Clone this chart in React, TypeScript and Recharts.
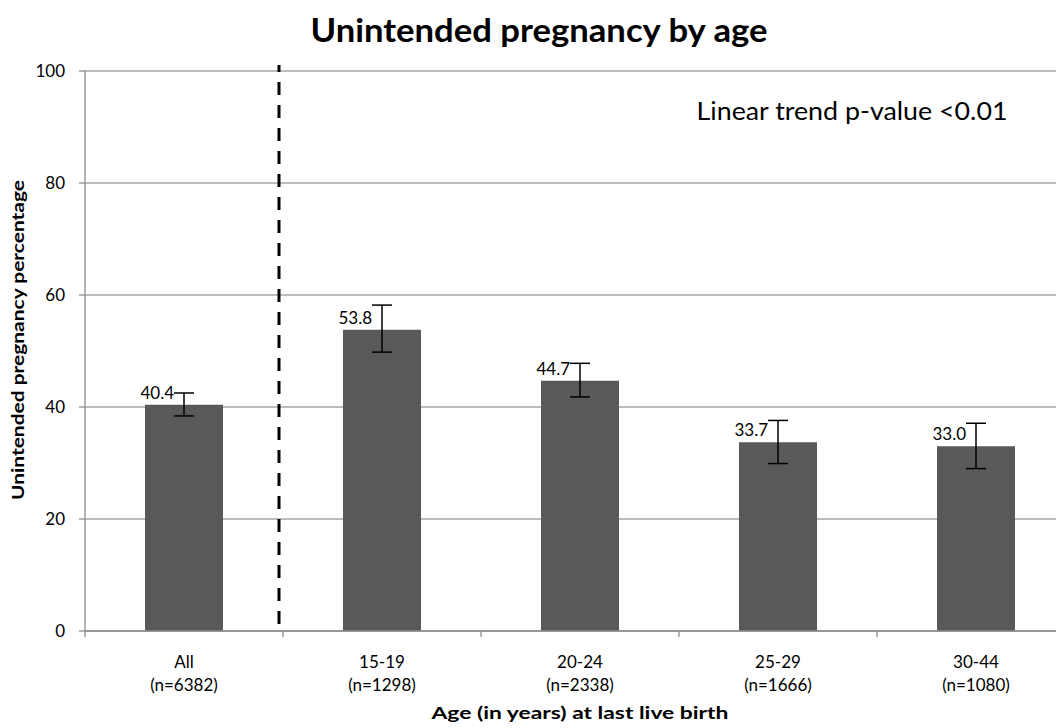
import React from 'react';
import {
  BarChart, Bar, XAxis, YAxis, CartesianGrid, ErrorBar, LabelList, ReferenceLine,
} from 'recharts';

const categories = ['All', '15-19', '20-24', '25-29', '30-44'];
const sampleSizes = ['(n=6382)', '(n=1298)', '(n=2338)', '(n=1666)', '(n=1080)'];
const values = [40.4, 53.8, 44.7, 33.7, 33.0];
const errLow = [2.0, 4.0, 2.9, 3.8, 4.0];
const errHigh = [2.1, 4.4, 3.1, 3.9, 4.1];
const yTicks = [0, 20, 40, 60, 80, 100];

const title = 'Unintended pregnancy by age';
const yTitle = 'Unintended pregnancy percentage';
const xTitle = 'Age (in years) at last live birth';
const trendNote = 'Linear trend p-value <0.01';

const data = categories.map((c, i) => ({
  cat: c,
  n: sampleSizes[i],
  value: values[i],
  err: [errLow[i], errHigh[i]],
}));

const FONT = 'Lato, "Noto Sans", sans-serif';
const CHART_W = 1080;
const CHART_H = 720;
const MARGIN = { top: 63, right: 13, bottom: 7, left: 0 };
const Y_AXIS_W = 77;
const BAND = (CHART_W - MARGIN.left - MARGIN.right - Y_AXIS_W) / categories.length;
const AXIS_GREY = '#8c8c8c';

const CatTick = (props: any) => {
  const { x, y, payload, index } = props;
  const isLast = index === categories.length - 1;
  return (
    <g>
      <line x1={x - BAND / 2} x2={x - BAND / 2} y1={y} y2={y + 6} stroke={AXIS_GREY} strokeWidth={1.3} />
      {isLast && (
        <line x1={x + BAND / 2} x2={x + BAND / 2} y1={y} y2={y + 6} stroke={AXIS_GREY} strokeWidth={1.3} />
      )}
      <text x={x} y={y} textAnchor="middle" fill="#000" fontSize={17} fontFamily={FONT}>
        <tspan x={x} dy={37}>{payload.value}</tspan>
        <tspan x={x} dy={23}>{sampleSizes[index]}</tspan>
      </text>
    </g>
  );
};

const ValueLabel = (props: any) => {
  const { x, y, width, value } = props;
  return (
    <text x={x + width / 2 - 10} y={y - 6} textAnchor="end" fill="#000" fontSize={17} fontFamily={FONT}>
      {Number(value).toFixed(1)}
    </text>
  );
};

const DashedDivider = (props: any) => {
  const { x1, y1, y2 } = props;
  const x = x1 - 4;
  return (
    <line x1={x} x2={x} y1={y1 - 7} y2={y2 - 6} stroke="#000" strokeWidth={3} strokeDasharray="13 10" />
  );
};

export default function App() {
  return (
    <div style={{ width: 1056, height: 720, overflow: 'hidden', fontFamily: FONT, background: '#fff' }}>
      <BarChart width={CHART_W} height={CHART_H} data={data} margin={MARGIN}>
        <CartesianGrid horizontal vertical={false} stroke="#a6a6a6" strokeWidth={1.3} />
        <XAxis
          dataKey="cat"
          height={90}
          tickLine={false}
          tickSize={0}
          tickMargin={0}
          axisLine={{ stroke: AXIS_GREY, strokeWidth: 1.3 }}
          tick={<CatTick />}
          interval={0}
        />
        <YAxis
          width={Y_AXIS_W}
          domain={[0, 100]}
          ticks={yTicks}
          tickSize={6}
          tickMargin={14}
          axisLine={{ stroke: AXIS_GREY, strokeWidth: 1.3 }}
          tickLine={{ stroke: AXIS_GREY, strokeWidth: 1.3 }}
          tick={{ fill: '#000', fontSize: 17, fontFamily: FONT }}
        />
        <Bar dataKey="value" fill="#595959" barSize={78} isAnimationActive={false}>
          <ErrorBar dataKey="err" width={10} stroke="#000" strokeWidth={1.5} />
          <LabelList dataKey="value" content={<ValueLabel />} />
        </Bar>
        <ReferenceLine x="All" position="end" ifOverflow="visible" shape={<DashedDivider />} />
        <text x={531} y={34} textAnchor="middle" fontSize={32} fontWeight="bold" fill="#000" fontFamily={FONT}
          textLength={457} lengthAdjust="spacingAndGlyphs">
          {title}
        </text>
        <text x={844} y={112} textAnchor="middle" fontSize={25} fill="#000" fontFamily={FONT}
          textLength={311} lengthAdjust="spacingAndGlyphs">
          {trendNote}
        </text>
        <text
          x={9}
          y={332}
          textAnchor="middle"
          dominantBaseline="central"
          transform="rotate(-90, 9, 332)"
          fontSize={17}
          fontWeight="bold"
          fill="#000"
          fontFamily={FONT}
          textLength={320}
          lengthAdjust="spacingAndGlyphs"
        >
          {yTitle}
        </text>
        <text x={572} y={711} textAnchor="middle" fontSize={17} fontWeight="bold" fill="#000" fontFamily={FONT}
          textLength={297} lengthAdjust="spacingAndGlyphs">
          {xTitle}
        </text>
      </BarChart>
    </div>
  );
}
